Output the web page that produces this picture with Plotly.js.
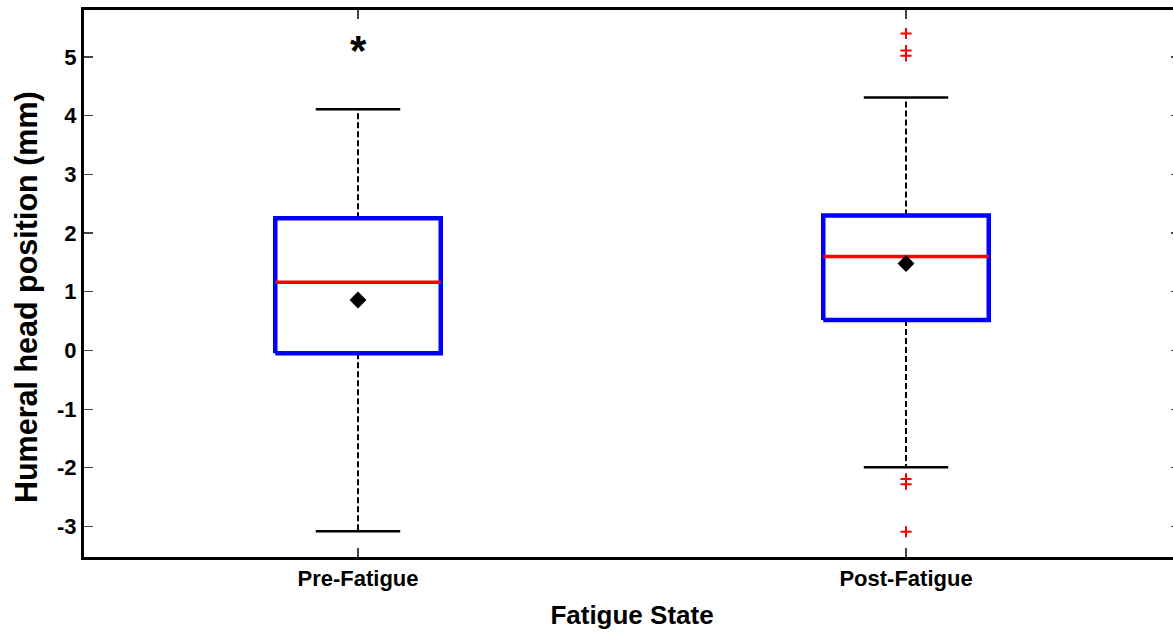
<!DOCTYPE html>
<html>
<head>
<meta charset="utf-8">
<script src="https://cdn.plot.ly/plotly-3.0.1.min.js"></script>
<style>
html,body{margin:0;padding:0;overflow:hidden;background:#fff;}
#chart{width:1190px;height:635px;}
</style>
</head>
<body>
<div id="chart"></div>
<script>
// ---- data ----
var categories = ["Pre-Fatigue", "Post-Fatigue"];
var q1Values = [-0.05, 0.52];
var medianValues = [1.16, 1.60];
var q3Values = [2.25, 2.30];
var lowerWhisker = [-3.08, -1.99];
var upperWhisker = [4.11, 4.31];
var meanValues = [0.86, 1.48];
var outliers = [[], [5.40, 5.11, 5.02, -2.19, -2.28, -3.09]];
var starValues = [5.25, null];
var yTickVals = [-3, -2, -1, 0, 1, 2, 3, 4, 5];
var yTickText = ["-3", "-2", "-1", "0", "1", "2", "3", "4", "5"];

// ---- style constants ----
var boxHalf = 0.151, capHalf = 0.077;
var fontFam = "Liberation Sans, Arial, sans-serif";

var boxX = [], boxY = [], medX = [], medY = [], whX = [], whY = [], capX = [], capY = [];
var outX = [], outY = [], meanX = [], starAnn = [];
categories.forEach(function (c, i) {
  boxX.push(i - boxHalf, i + boxHalf, i + boxHalf, i - boxHalf, i - boxHalf, null);
  boxY.push(q1Values[i], q1Values[i], q3Values[i], q3Values[i], q1Values[i], null);
  medX.push(i - boxHalf, i + boxHalf, null);
  medY.push(medianValues[i], medianValues[i], null);
  whX.push(i, i, null, i, i, null);
  whY.push(q3Values[i], upperWhisker[i], null, q1Values[i], lowerWhisker[i], null);
  capX.push(i - capHalf, i + capHalf, null, i - capHalf, i + capHalf, null);
  capY.push(upperWhisker[i], upperWhisker[i], null, lowerWhisker[i], lowerWhisker[i], null);
  outliers[i].forEach(function (v) { outX.push(i); outY.push(v); });
  meanX.push(i);
  if (starValues[i] !== null) {
    starAnn.push({text: "*", xref: "x", yref: "y", x: i, y: starValues[i], showarrow: false,
      xanchor: "center", yanchor: "middle", yshift: -8,
      font: {family: fontFam, size: 42, weight: "bold", color: "#000"}});
  }
});

var traces = [
  {x: whX, y: whY, mode: "lines", line: {color: "#000", width: 2, dash: "6px,3px"}, hoverinfo: "skip"},
  {x: capX, y: capY, mode: "lines", line: {color: "#000", width: 2.5}, hoverinfo: "skip"},
  {x: boxX, y: boxY, mode: "lines", line: {color: "#0000ff", width: 4.5}, hoverinfo: "skip"},
  {x: medX, y: medY, mode: "lines", line: {color: "#ff0000", width: 3.5}, hoverinfo: "skip"},
  {x: outX, y: outY, mode: "markers", marker: {symbol: "cross-thin-open", size: 8, color: "#ff0000", line: {color: "#ff0000", width: 2}}},
  {x: meanX, y: meanValues, mode: "markers", marker: {symbol: "diamond", size: 13, color: "#000"}}
];

var layout = {
  width: 1190, height: 635,
  margin: {l: 84, r: 10, t: 10, b: 78},
  paper_bgcolor: "#fff", plot_bgcolor: "#fff",
  showlegend: false,
  font: {family: fontFam, color: "#000"},
  xaxis: {
    range: [-0.5, 1.5], tickvals: [0, 1], ticktext: categories,
    showgrid: false, zeroline: false,
    showline: true, linecolor: "#000", linewidth: 3, mirror: "ticks",
    ticks: "inside", ticklen: 9, tickwidth: 1.2, tickcolor: "#444",
    tickfont: {family: fontFam, size: 22, weight: "bold", color: "#000"},
    title: {text: "Fatigue State", font: {family: fontFam, size: 26, weight: "bold", color: "#000"}, standoff: 16}
  },
  yaxis: {
    range: [-3.52, 5.8], tickvals: yTickVals, ticktext: yTickText,
    showgrid: false, zeroline: false,
    showline: true, linecolor: "#000", linewidth: 3, mirror: "ticks",
    ticks: "inside", ticklen: 9, tickwidth: 1.2, tickcolor: "#444",
    tickfont: {family: fontFam, size: 22, weight: "bold", color: "#000"}
  },
  annotations: [{
    text: "Humeral head position (mm)", xref: "paper", yref: "paper",
    x: -0.053, y: 0.475, xanchor: "center", yanchor: "middle", textangle: -90, showarrow: false,
    font: {family: fontFam, size: 30.5, weight: "bold", color: "#000"}
  }].concat(starAnn)
};

Plotly.newPlot("chart", traces, layout, {displayModeBar: false, staticPlot: true});
</script>
</body>
</html>
